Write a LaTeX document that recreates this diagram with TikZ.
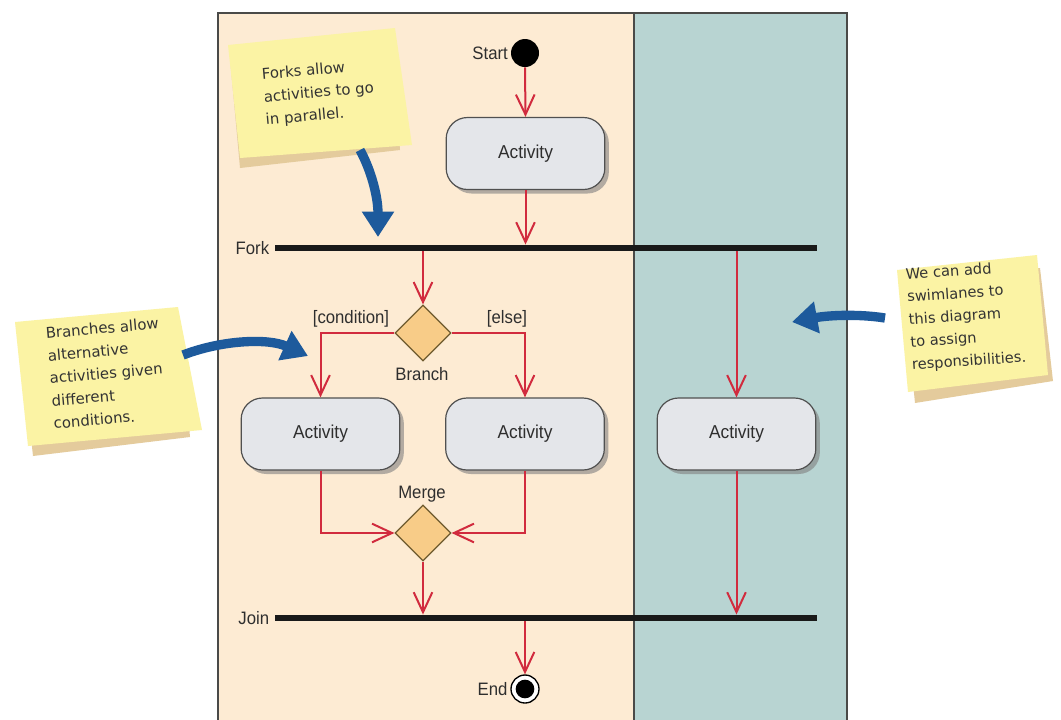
\documentclass[tikz,border=0pt]{standalone}
\usepackage{fontspec}
\setmainfont{Liberation Sans}
\newfontfamily\lblfont[FakeStretch=0.93]{Liberation Sans}
\newfontfamily\notefont{DejaVu Sans}
\usetikzlibrary{shapes.geometric,arrows.meta,shadows}
\definecolor{lanepeach}{HTML}{FDEBD3}
\definecolor{laneteal}{HTML}{B8D4D2}
\definecolor{lanebdr}{HTML}{4A4A48}
\definecolor{noteyel}{HTML}{FBF3A4}
\definecolor{noteshd}{HTML}{E4CB9C}
\definecolor{bluearr}{HTML}{1D5A9C}
\definecolor{flowred}{HTML}{D12B3E}
\definecolor{diafill}{HTML}{F8CC88}
\definecolor{diabdr}{HTML}{6E5A2E}
\definecolor{actfill}{HTML}{E4E6EA}
\definecolor{actbdr}{HTML}{505050}
\definecolor{txt}{HTML}{2E2E2E}
\tikzset{
  activity/.style={rectangle, rounded corners=16pt, draw=actbdr, line width=0.9pt, fill=actfill,
    minimum width=119pt, minimum height=54pt, font=\lblfont\fontsize{14}{16}\selectfont, text=txt,
    drop shadow={shadow xshift=3pt, shadow yshift=-3pt, fill=black!50, opacity=0.6}},
  decision/.style={diamond, draw=diabdr, line width=0.9pt, fill=diafill, minimum width=42pt, minimum height=42pt, inner sep=0pt},
  syncbar/.style={rectangle, fill=black!90, minimum width=406.5pt, minimum height=4.8pt, inner sep=0pt},
  flow/.style={draw=flowred, line width=1.5pt, -{Straight Barb[length=15pt,width=14pt]}},
  lbl/.style={font=\lblfont\fontsize{13.5}{15}\selectfont, text=txt},
  notetext/.style={font=\notefont\fontsize{11.2}{17}\selectfont, text=black!80, align=left, anchor=north west, inner sep=0pt, rotate=5},
  callout/.style={draw=bluearr, line width=7pt, -{Triangle[length=19pt,width=23pt]}}
}
\begin{document}
\begin{tikzpicture}[x=0.75pt,y=-0.75pt]
\useasboundingbox (0,0) rectangle (1061,719);
\fill[white] (0,0) rectangle (1061,719);
% swimlanes
\fill[lanepeach] (218,13) rectangle (634,725);
\fill[laneteal] (634,13) rectangle (847,725);
\draw[lanebdr, line width=1pt] (218,725) -- (218,13) -- (847,13) -- (847,725);
\draw[lanebdr, line width=1pt] (634,13) -- (634,725);

% sticky notes
\fill[noteshd] (230,58) -- (392,42) -- (400,150) -- (240,168) -- cycle;
\fill[noteyel] (228,45) -- (395,28) -- (412,145) -- (240,158) -- cycle;
\node[notetext] (note1) at (261,68) {Forks allow\\activities to go\\in parallel.};

\fill[noteshd] (20,335) -- (180,320) -- (190,437) -- (33,456) -- cycle;
\fill[noteyel] (15,322) -- (178,307) -- (202,430) -- (28,446) -- cycle;
\node[notetext] (note2) at (45,327) {Branches allow\\alternative\\activities given\\different\\conditions.};

\fill[noteshd] (903,282) -- (1040,268) -- (1053,381) -- (915,403) -- cycle;
\fill[noteyel] (897,270) -- (1037,255) -- (1048,375) -- (908,392) -- cycle;
\node[notetext, rotate=-1, font=\notefont\fontsize{11}{17}\selectfont] (note3) at (905,268) {We can add\\swimlanes to\\this diagram\\to assign\\responsibilities.};

% nodes
\node[circle, fill=black, minimum size=21pt, inner sep=0pt] (start) at (525,53) {};
\node[lbl, anchor=east, inner sep=2pt] (startlbl) at (start.west) {Start};
\node[activity] (act1) at (525.5,153.5) {Activity};
\node[syncbar] (fork) at (546,248) {};
\node[lbl, anchor=east, inner sep=4pt] (forklbl) at (fork.west) {Fork};
\node[decision] (branch) at (423,333) {};
\node[lbl, anchor=base] (condlbl) at (351,323) {[condition]};
\node[lbl, anchor=base] (elselbl) at (507,323) {[else]};
\node[lbl, anchor=base] (branchlbl) at (422,380) {Branch};
\node[activity] (act2) at (320.5,434) {Activity};
\node[activity] (act3) at (525,434) {Activity};
\node[activity] (act4) at (736.5,434) {Activity};
\node[decision] (merge) at (423,533) {};
\node[lbl, anchor=base] (mergelbl) at (422,498) {Merge};
\node[syncbar] (join) at (546,618) {};
\node[lbl, anchor=east, inner sep=4pt] (joinlbl) at (join.west) {Join};
\node[circle, draw=black, line width=1pt, fill=white, minimum size=21pt, inner sep=0pt] (end) at (525,689) {};
\fill[black] (end.center) circle (7pt);
\node[lbl, anchor=east, inner sep=2pt] (endlbl) at (end.west) {End};

% control flow
\draw[flow] (start.south) -- (act1.north);
\draw[flow] (act1.south) -- (act1.south |- fork.north);
\draw[flow] (branch.north |- fork.south) -- (branch.north);
\draw[flow] (act4.north |- fork.south) -- (act4.north);
\draw[flow] (branch.west) -| (act2.north);
\draw[flow] (branch.east) -| (act3.north);
\draw[flow] (act2.south) |- (merge.west);
\draw[flow] (act3.south) |- (merge.east);
\draw[flow] (merge.south) -- (merge.south |- join.north);
\draw[flow] (act4.south) -- (act4.south |- join.north);
\draw[flow] (end.north |- join.south) -- (end.north);

% callout arrows
\coordinate (c1s) at (360,150);
\coordinate (c1e) at (378,237);
\coordinate (c2s) at (183,355);
\coordinate (c2e) at (308,356);
\coordinate (c3s) at (885,318);
\coordinate (c3e) at (792,322);
\draw[callout] (c1s) .. controls (372,172) and (378,198) .. (c1e);
\draw[callout] (c2s) .. controls (222,340) and (268,338) .. (c2e);
\draw[callout] (c3s) .. controls (860,314) and (830,315) .. (c3e);
\end{tikzpicture}
\end{document}
